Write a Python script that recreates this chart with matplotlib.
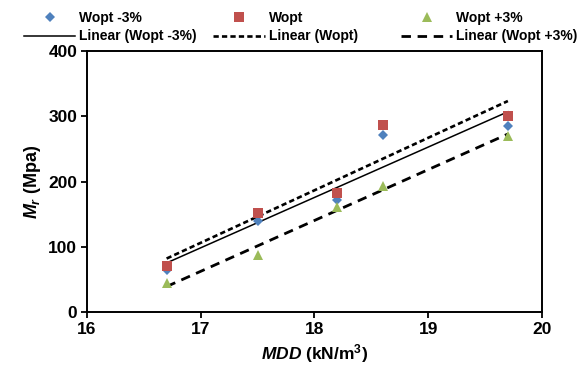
import numpy as np
import matplotlib
matplotlib.use("Agg")
import matplotlib.pyplot as plt

plt.rcParams['font.family'] = ['Liberation Sans', 'DejaVu Sans']
plt.rcParams['mathtext.fontset'] = 'custom'
plt.rcParams['mathtext.it'] = 'Liberation Sans:bold:italic'
plt.rcParams['mathtext.rm'] = 'Liberation Sans:bold'
plt.rcParams['mathtext.bf'] = 'Liberation Sans:bold'

# data
mdd = [16.7, 17.5, 18.2, 18.6, 19.7]
mr_minus3 = [65, 140, 171, 271, 285]
mr_opt = [70, 151, 182, 286, 300]
mr_plus3 = [44, 88, 161, 193, 270]

series_names = ['Wopt -3%', 'Wopt', 'Wopt +3%']
colors = ['#4F81BD', '#C0504D', '#9BBB59']
markers = ['D', 's', '^']
msizes = [5.5, 7, 7.5]
trend_styles = [dict(ls='-', lw=1.1),
                dict(ls=(0, (2.0, 1.2)), lw=1.9),
                dict(ls=(0, (3.4, 2.4)), lw=2.0)]
legend_x = [0.041, 0.367, 0.690]

fig = plt.figure(figsize=(5.81, 3.74), dpi=100)
ax = fig.add_axes([0.1497, 0.1658, 0.7832, 0.6978])

groups = []
for y, name, c, m, ms, st in zip([mr_minus3, mr_opt, mr_plus3], series_names,
                                 colors, markers, msizes, trend_styles):
    pts, = ax.plot(mdd, y, ls='none', marker=m, ms=ms, color=c,
                   markeredgewidth=0, label=name, zorder=3)
    # linear trend line
    k, b = np.polyfit(mdd, y, 1)
    xs = np.array([min(mdd), max(mdd)])
    ln, = ax.plot(xs, k * xs + b, color='black', label='Linear (%s)' % name,
                  zorder=2, **st)
    groups.append([pts, ln])

ax.set_xlim(16, 20)
ax.set_ylim(0, 400)
ax.set_xticks([16, 17, 18, 19, 20])
ax.set_yticks([0, 100, 200, 300, 400])
ax.tick_params(direction='out', length=4, width=1.3, labelsize=12.5, pad=3)
for lab in ax.get_xticklabels() + ax.get_yticklabels():
    lab.set_fontweight('bold')
for sp in ax.spines.values():
    sp.set_linewidth(1.4)

ax.set_xlabel(r'$MDD$ (kN/m$^{\mathrm{3}}$)', fontsize=12.5, fontweight='bold',
              labelpad=4)
ax.set_ylabel(r'$M_r$ (Mpa)', fontsize=13, fontweight='bold', labelpad=4)

# one legend per column, like excel's evenly spaced columns
for hs, lx in zip(groups, legend_x):
    fig.legend(handles=hs, loc='upper left', bbox_to_anchor=(lx, 0.970),
               frameon=False, prop={'weight': 'bold', 'size': 10},
               handlelength=3.7, handletextpad=0.3, labelspacing=0.3,
               borderpad=0, borderaxespad=0)

fig.savefig('out.png', dpi=100)
